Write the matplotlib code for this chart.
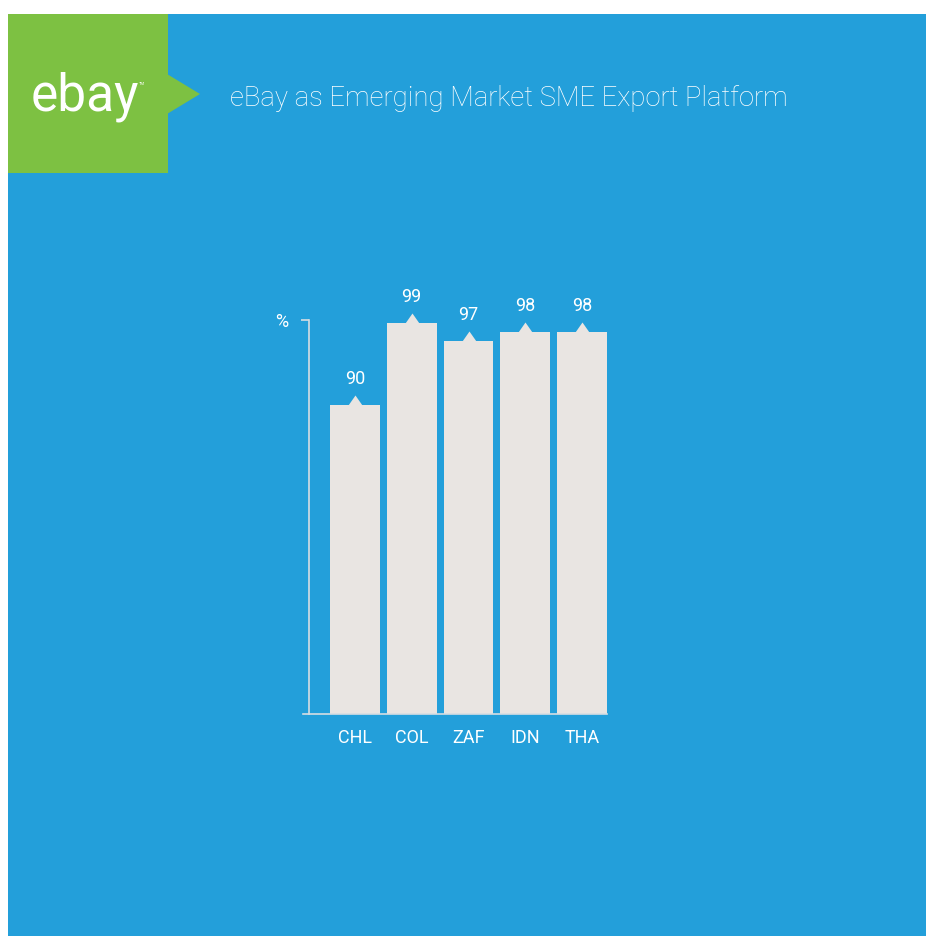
import matplotlib
matplotlib.use('Agg')
import matplotlib.pyplot as plt
from matplotlib.patches import Rectangle, Polygon

countries = ['CHL', 'COL', 'ZAF', 'IDN', 'THA']
share = [90, 99, 97, 98, 98]
title = 'eBay as Emerging Market SME Export Platform'

W, H = 926, 936
blue = '#239fda'
green = '#7dc142'
bar_col = '#e9e5e2'
axis_col = '#d6dde2'

plt.rcParams['font.family'] = ['Roboto', 'DejaVu Sans']

fig = plt.figure(figsize=(W / 100, H / 100), dpi=100)
fig.patch.set_facecolor('white')


def fx(x):
    return x / W


def fy(y):
    return 1 - y / H


# background panels
fig.patches.append(Rectangle((fx(8), fy(936)), fx(918), 922 / H, transform=fig.transFigure,
                             facecolor=blue, edgecolor='none', zorder=0))
fig.patches.append(Rectangle((fx(8), fy(173)), fx(160), 159 / H, transform=fig.transFigure,
                             facecolor=green, edgecolor='none', zorder=1))
fig.patches.append(Polygon([(fx(167), fy(74)), (fx(200), fy(94)), (fx(167), fy(114))],
                           closed=True, transform=fig.transFigure,
                           facecolor=green, edgecolor='none', zorder=1))

fig.text(fx(85), fy(97), 'ebay', color='white', fontsize=37, ha='center', va='center',
         fontweight='normal')
fig.text(fx(139), fy(84), 'TM', color='white', fontsize=3, ha='left', va='center')
fig.text(fx(230), fy(99), title, color='white', fontsize=19.8, ha='left', va='center',
         fontweight='light')

# chart area: x from 303 to 607 px, y from 320 to 714 px
ax = fig.add_axes([fx(303), fy(714), fx(304), 394 / H])
ax.set_zorder(5)
ax.set_facecolor('none')
ax.set_xlim(-0.916, 4.44)
ax.set_ylim(56, 99.3)

x = list(range(len(countries)))
ax.bar(x, [v - 56 for v in share], width=0.88, bottom=56, color=bar_col, zorder=2)
# small pointer on top of each bar
ax.plot(x, share, linestyle='none', marker=[(-0.7, 0), (0.7, 0), (0, 1)],
        markersize=14.4, color=bar_col, markeredgewidth=0, zorder=3, clip_on=False)

for i, v in enumerate(share):
    ax.annotate(str(v), (i, v), xytext=(0, 26), textcoords='offset pixels',
                ha='center', va='center', color='white', fontsize=13, fontweight='normal',
                annotation_clip=False)

for s in ['top', 'right']:
    ax.spines[s].set_visible(False)
ax.spines['left'].set_position(('data', -0.807))
ax.spines['left'].set_color(axis_col)
ax.spines['bottom'].set_color(axis_col)
ax.spines['left'].set_linewidth(1.2)
ax.spines['bottom'].set_linewidth(1.2)

ax.set_xticks(x)
ax.set_xticklabels(countries, color='white', fontsize=13, fontweight='normal')
ax.tick_params(axis='x', length=0, pad=11)
ax.set_yticks([99.3])
ax.set_yticklabels(['%'], color='white', fontsize=13, fontweight='normal')
ax.tick_params(axis='y', length=6, width=1.2, color=axis_col, pad=9)

fig.savefig('out.png', dpi=100, facecolor='white')
